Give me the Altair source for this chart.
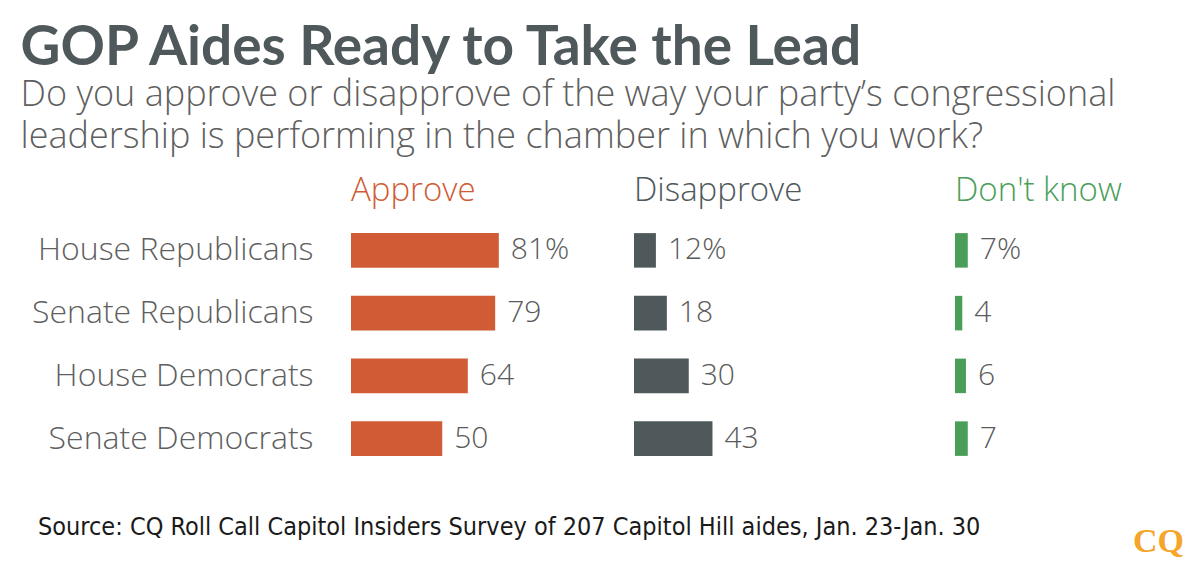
import altair as alt
import pandas as pd

rows = ["House Republicans", "Senate Republicans", "House Democrats", "Senate Democrats"]
approve = [81, 79, 64, 50]
disapprove = [12, 18, 30, 43]
dont_know = [7, 4, 6, 7]

headers = ["Approve", "Disapprove", "Don't know"]
colors = ["#D05B35", "#4F585B", "#4A9E58"]

title_text = "GOP Aides Ready to Take the Lead"
subtitle_lines = [
    "Do you approve or disapprove of the way your party\u2019s congressional",
    "leadership is performing in the chamber in which you work?",
]
source_text = "Source: CQ Roll Call Capitol Insiders Survey of 207 Capitol Hill aides, Jan. 23-Jan. 30"
logo_text = "CQ"

FONT = "Open Sans"
PX_PER_UNIT = 1.825
panel_widths = [283, 321, 228]
H = 251


def panel(name, values, color, width, first=False, last=False):
    df = pd.DataFrame({
        "group": rows,
        "value": values,
        "label": [f"{v}%" if i == 0 else str(v) for i, v in enumerate(values)],
    })
    x = alt.X("value:Q", scale=alt.Scale(domain=[0, width / PX_PER_UNIT], nice=False, zero=True), axis=None)
    if first:
        yaxis = alt.Axis(title=None, ticks=False, domain=False, grid=False, labelFont=FONT,
                         labelFontSize=32, labelFontWeight=300, labelColor="#5F5F5F",
                         labelPadding=38, labelLimit=500)
    else:
        yaxis = None
    y = alt.Y("group:N", sort=rows, scale=alt.Scale(paddingInner=0.45, paddingOuter=0.225), axis=yaxis)
    base = alt.Chart(df)
    bars = base.mark_bar(color=color).encode(x=x, y=y)
    text = base.mark_text(align="left", baseline="middle", dx=12, font=FONT, fontSize=30,
                          fontWeight=300, color="#5A5A5A").encode(x=x, y=y, text="label:N")
    layers = [bars, text]
    if first:
        src = base.transform_filter(alt.datum.group == rows[0]).mark_text(
            align="left", baseline="alphabetic", font="'Liberation Sans Narrow', 'DejaVu Sans Condensed', Roboto",
            fontSize=25, color="#1A1A1A", text=source_text
        ).encode(x=alt.value(38 - 351), y=alt.value(535 - 219))
        layers.append(src)
    if last:
        logo = base.transform_filter(alt.datum.group == rows[0]).mark_text(
            align="left", baseline="alphabetic", font="Liberation Serif", fontWeight="bold",
            fontSize=34, color="#F5A52A", text=logo_text
        ).encode(x=alt.value(1133 - 955), y=alt.value(552 - 219))
        layers.append(logo)
    return alt.layer(*layers).properties(
        width=width, height=H,
        title=alt.TitleParams(name, anchor="start", frame="group", color=color, font=FONT,
                              fontSize=33, fontWeight=300, offset=11),
    )


p1 = panel(headers[0], approve, colors[0], panel_widths[0], first=True)
p2 = panel(headers[1], disapprove, colors[1], panel_widths[1])
p3 = panel(headers[2], dont_know, colors[2], panel_widths[2], last=True)

chart = alt.hconcat(p1, p2, p3, spacing=0, bounds="flush").properties(
    padding={"left": 12, "top": 13, "right": 0, "bottom": 0},
    background="white",
    title=alt.TitleParams(
        title_text, subtitle=subtitle_lines, anchor="start", font="Lato", fontSize=55,
        fontWeight="bold", color="#4F585B", subtitleFont=FONT, subtitleFontSize=36,
        subtitleFontWeight=300, subtitleColor="#5F5F5F", subtitleLineHeight=42,
        subtitlePadding=1, offset=19, dx=-11,
    ),
).configure_view(stroke=None)

chart.save("out.html", embed_options={"renderer": "svg", "actions": False})
